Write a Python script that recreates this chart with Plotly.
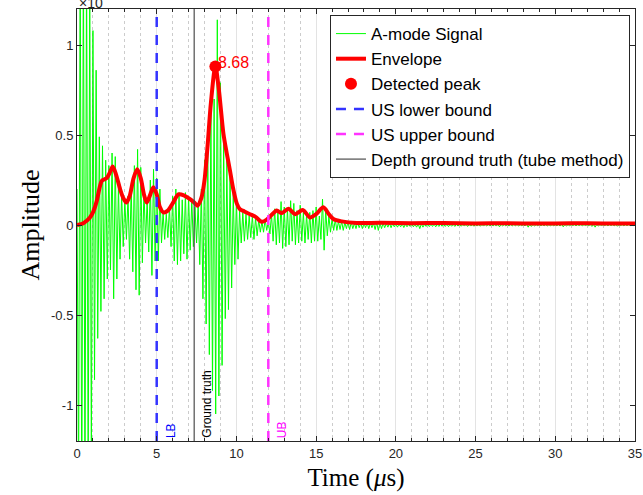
import numpy as np
import plotly.graph_objects as go

# ---- A-mode RF signal: alternating half-cycle peak amplitudes, sampled every 0.1 us ----
sample_step = 0.1
sig_0_5 = [0.2, -1.5, 1.6, -1.7, 1.6, -1.55, 1.5, -1.45, 1.3, -1.3,
           1.08, -0.86, 0.86, -0.63, 0.49, -0.48, 0.44, -0.41, 0.36, -0.30,
           0.33, -0.25, 0.40, -0.41, 0.38, -0.30, 0.22, -0.19, 0.18, -0.12,
           0.14, -0.08, 0.16, -0.19, 0.22, -0.26, 0.33, -0.36, 0.42, -0.39,
           0.32, -0.21, 0.20, -0.10, 0.14, -0.15, 0.25, -0.28, 0.31, -0.20]
sig_5_10 = [0.26, -0.20, 0.20, -0.10, 0.07, -0.08, 0.06, -0.07, 0.10, -0.12,
            0.16, -0.20, 0.20, -0.22, 0.18, -0.20, 0.14, -0.16, 0.18, -0.19,
            0.16, -0.14, 0.14, -0.12, 0.10, -0.10, 0.12, -0.22, 0.20, -0.41,
            0.36, -0.55, 0.51, -0.72, 0.62, -0.92, 0.70, -1.05, 1.14, -0.95,
            0.79, -0.78, 0.48, -0.52, 0.36, -0.47, 0.30, -0.35, 0.18, -0.22]
sig_10_15 = [0.14, -0.19, 0.08, -0.10, 0.07, -0.09, 0.06, -0.08, 0.05, -0.07,
             0.05, -0.08, 0.04, -0.06, 0.03, -0.04, 0.02, -0.04, 0.03, -0.03,
             0.02, -0.05, 0.06, -0.09, 0.09, -0.11, 0.08, -0.10, 0.13, -0.13,
             0.10, -0.12, 0.09, -0.11, 0.135, -0.09, 0.12, -0.11, 0.08, -0.10,
             0.11, -0.09, 0.07, -0.10, 0.06, -0.08, 0.07, -0.10, 0.08, -0.09]
sig_15_20 = [0.10, -0.09, 0.05, -0.08, 0.144, -0.14, 0.09, -0.06, 0.05, -0.04,
             0.034, -0.03, 0.03, -0.03, 0.02, -0.025, 0.02, -0.03, 0.015, -0.02,
             0.02, -0.025, 0.015, -0.02, 0.01, -0.02, 0.015, -0.015, 0.01, -0.02,
             0.01, -0.015, 0.012, -0.02, 0.01, -0.015, 0.01, -0.025, 0.015, -0.03,
             0.012, -0.02, 0.01, -0.015, 0.008, -0.012, 0.01, -0.015, 0.008, -0.01]
sig_20_35 = [0.006, -0.012, 0.005, -0.01, 0.006, -0.014, 0.005, -0.01, 0.004, -0.008,
             0.005, -0.01, 0.004, -0.012, 0.006, -0.02, 0.006, -0.012, 0.004, -0.008,
             0.005, -0.009, 0.004, -0.008, 0.005, -0.01, 0.004, -0.008, 0.004, -0.007,
             0.004, -0.008, 0.004, -0.009, 0.003, -0.007, 0.004, -0.008, 0.004, -0.006,
             0.004, -0.007, 0.003, -0.006, 0.004, -0.008, 0.003, -0.006, 0.003, -0.007,
             0.004, -0.006, 0.003, -0.007, 0.003, -0.006, 0.003, -0.005, 0.003, -0.006,
             0.003, -0.005, 0.003, -0.006, 0.004, -0.01, 0.003, -0.005, 0.003, -0.005,
             0.003, -0.006, 0.003, -0.005, 0.003, -0.004, 0.003, -0.005, 0.002, -0.004,
             0.003, -0.005, 0.004, -0.012, 0.004, -0.008, 0.003, -0.005, 0.002, -0.004,
             0.003, -0.004, 0.002, -0.004, 0.003, -0.005, 0.002, -0.004, 0.002, -0.004,
             0.002, -0.004, 0.003, -0.006, 0.003, -0.01, 0.003, -0.005, 0.002, -0.004,
             0.002, -0.003, 0.002, -0.004, 0.002, -0.003, 0.002, -0.004, 0.002, -0.003,
             0.002, -0.004, 0.003, -0.008, 0.003, -0.012, 0.003, -0.005, 0.002, -0.003,
             0.002, -0.003, 0.002, -0.004, 0.002, -0.003, 0.002, -0.004, 0.003, -0.007,
             0.002, -0.003, 0.002, -0.004, 0.002, -0.003, 0.002, -0.003, 0.002, -0.003,
             0.0]

# ---- Envelope (time in us, amplitude) ----
env_t = [0, 0.4, 0.8, 1.0, 1.23, 1.4, 1.55, 1.86, 2.05, 2.24, 2.45, 2.7, 2.9, 3.1, 3.3,
         3.55, 3.78, 4.0, 4.2, 4.37, 4.6, 4.79, 5.0, 5.2, 5.42, 5.7, 6.0, 6.36, 6.7, 7.09,
         7.35, 7.55, 7.8, 8.0, 8.2, 8.4, 8.68, 8.9, 9.18, 9.39, 9.6, 9.8, 10.02, 10.2, 10.5,
         10.85, 11.2, 11.59, 11.9, 12.2, 12.53, 12.84, 13.26, 13.68, 14.16, 14.62, 15.0,
         15.45, 15.8, 16.08, 16.6, 17.55, 19, 21, 23, 25, 27, 29, 31, 33, 35]
env_v = [0.0, 0.01, 0.04, 0.07, 0.13, 0.2, 0.245, 0.26, 0.29, 0.325, 0.28, 0.2, 0.15, 0.125,
         0.16, 0.26, 0.31, 0.26, 0.17, 0.125, 0.17, 0.21, 0.17, 0.1, 0.07, 0.08, 0.12, 0.17,
         0.165, 0.144, 0.125, 0.107, 0.15, 0.25, 0.45, 0.68, 0.88, 0.75, 0.51, 0.4, 0.3, 0.2,
         0.12, 0.09, 0.075, 0.06, 0.045, 0.018, 0.03, 0.055, 0.08, 0.066, 0.09, 0.06, 0.083,
         0.042, 0.06, 0.098, 0.06, 0.033, 0.02, 0.011, 0.012, 0.01, 0.011, 0.009, 0.01,
         0.008, 0.01, 0.009, 0.008]

# ---- Detected peak and reference depths (us) ----
peak_t, peak_v = 8.68, 0.88
lower_bound = 5.0
upper_bound = 12.0
ground_truth = 7.35

x_range = [0, 35]
y_range = [-1.2, 1.2]
y_ticks = [-1, -0.5, 0, 0.5, 1]
y_tick_text = ["-1", "-0.5", "0", "0.5", "1"]

segments = [(0.0, sig_0_5), (5.0, sig_5_10), (10.0, sig_10_15), (15.0, sig_15_20), (20.0, sig_20_35)]
sig_t, sig_v = [], []
for t0, vals in segments:
    sig_t += [t0 + i * sample_step for i in range(len(vals))]
    sig_v += vals

fig = go.Figure()
fig.add_trace(go.Scatter(x=sig_t, y=sig_v, mode="lines", name="A-mode Signal",
                         line=dict(color="#00ff00", width=1)))
fig.add_trace(go.Scatter(x=env_t, y=env_v, mode="lines", name="Envelope",
                         line=dict(color="#ff0000", width=4, shape="spline", smoothing=0.8)))
fig.add_trace(go.Scatter(x=[peak_t], y=[peak_v], mode="markers", name="Detected peak",
                         marker=dict(color="#ff0000", size=12)))
fig.add_trace(go.Scatter(x=[lower_bound, lower_bound], y=y_range, mode="lines",
                         name="US lower bound",
                         line=dict(color="#3333ff", width=2.5, dash="10px,8px")))
fig.add_trace(go.Scatter(x=[upper_bound, upper_bound], y=y_range, mode="lines",
                         name="US upper bound",
                         line=dict(color="#ff33ff", width=2.5, dash="10px,8px")))
fig.add_trace(go.Scatter(x=[ground_truth, ground_truth], y=y_range, mode="lines",
                         name="Depth ground truth (tube method)",
                         line=dict(color="#4d4d4d", width=1.2)))

sans = "Liberation Sans, Arial, sans-serif"
serif = "Liberation Serif, Times New Roman, serif"
tick_font = dict(family=sans, size=13, color="#262626")

annotations = [
    dict(x=peak_t, y=peak_v, xref="x", yref="y", text=f"{peak_t:.2f}", showarrow=False,
         xanchor="left", yanchor="bottom", xshift=1, yshift=-6,
         font=dict(family=sans, size=16, color="#ff0000")),
    dict(x=lower_bound + 0.87, y=y_range[0], xref="x", yref="y", text="LB", textangle=-90,
         showarrow=False, xanchor="center", yanchor="bottom", yshift=1,
         font=dict(family=sans, size=12, color="#0000ff")),
    dict(x=ground_truth + 0.75, y=y_range[0], xref="x", yref="y", text="Ground truth",
         textangle=-90, showarrow=False, xanchor="center", yanchor="bottom", yshift=1,
         font=dict(family=sans, size=12, color="#000000")),
    dict(x=upper_bound + 0.84, y=y_range[0], xref="x", yref="y", text="UB", textangle=-90,
         showarrow=False, xanchor="center", yanchor="bottom", yshift=1,
         font=dict(family=sans, size=12, color="#ff00ff")),
    dict(x=0, y=1, xref="paper", yref="paper", text="×10", showarrow=False,
         xanchor="left", yanchor="bottom", yshift=-4,
         font=dict(family=sans, size=14, color="#262626")),
]

fig.update_layout(
    width=643, height=495,
    margin=dict(l=77, r=8, t=9, b=54, autoexpand=False),
    paper_bgcolor="white", plot_bgcolor="white",
    showlegend=True,
    legend=dict(x=0.991, y=0.986, xanchor="right", yanchor="top",
                bgcolor="white", bordercolor="#262626", borderwidth=1,
                font=dict(family=sans, size=17, color="#000000"),
                tracegroupgap=0),
    annotations=annotations,
    xaxis=dict(range=x_range, tickvals=list(range(0, 36, 5)), automargin=False,
               showgrid=True, gridcolor="#e3e3e3", gridwidth=1,
               minor=dict(dtick=1, showgrid=True, gridcolor="#cccccc", griddash="dot",
                          ticks="inside", ticklen=3, tickcolor="#262626"),
               ticks="inside", ticklen=5, tickcolor="#262626",
               showline=True, linecolor="#262626", linewidth=1, mirror="ticks",
               zeroline=False, tickfont=tick_font,
               title=dict(text="Time (<i>μ</i>s)", font=dict(family=serif, size=25, color="#000000"),
                          standoff=8)),
    yaxis=dict(range=y_range, tickvals=y_ticks, ticktext=y_tick_text, automargin=False,
               showgrid=False, zeroline=False,
               ticks="inside", ticklen=5, tickcolor="#262626",
               showline=True, linecolor="#262626", linewidth=1, mirror="ticks",
               tickfont=tick_font,
               title=dict(text="Amplitude", font=dict(family=serif, size=26, color="#000000"),
                          standoff=3)),
)

fig.write_html("out.html", config={"displayModeBar": False})
